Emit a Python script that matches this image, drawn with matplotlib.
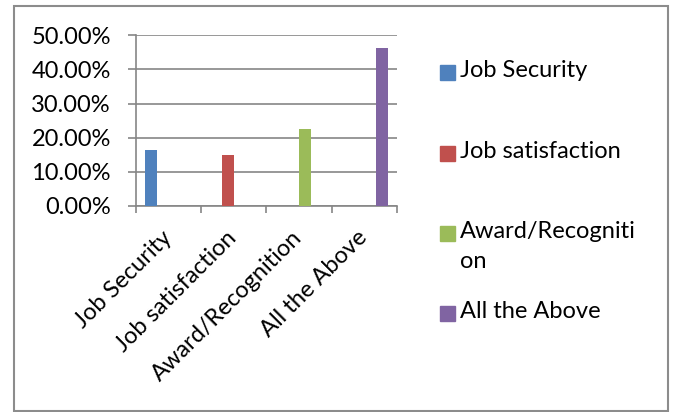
import matplotlib.pyplot as plt
from matplotlib.patches import Rectangle
from matplotlib.ticker import PercentFormatter

plt.rcParams['font.family'] = ['Lato', 'DejaVu Sans']

categories = ['Job Security', 'Job satisfaction', 'Award/Recognition', 'All the Above']
legend_labels = ['Job Security', 'Job satisfaction', 'Award/Recogniti\non', 'All the Above']
values = [16.3, 14.9, 22.6, 46.3]
colors = ['#4F81BD', '#C0504D', '#9BBB59', '#8064A2']
yticks = [0, 10, 20, 30, 40, 50]

W, H = 674, 412
fig = plt.figure(figsize=(W / 100, H / 100), dpi=100)
ax = fig.add_axes([136 / W, 1 - 206 / H, (396.7 - 136) / W, (206 - 35.3) / H])

# excel style: each series is its own column in a 4-wide cluster
n = len(categories)
w = 1 / (n + 1.5)
for i, (v, c) in enumerate(zip(values, colors)):
    ax.bar(i + (i - (n - 1) / 2) * w, v, width=w, color=c, zorder=3)

ax.set_xlim(-0.5, n - 0.5)
ax.set_ylim(0, 50)
ax.set_yticks(yticks)
ax.yaxis.set_major_formatter(PercentFormatter(decimals=2))
ax.grid(axis='y', color='#868686', linewidth=1.2, zorder=0)

ax.set_xticks([x - 0.5 for x in range(n + 1)])
ax.set_xticklabels([])
for i, lab in enumerate(categories):
    ax.annotate(lab, xy=(i, 0), xycoords='data', xytext=(5, -15), textcoords='offset points',
                rotation=45, ha='right', va='top', fontsize=17)

for s in ['top', 'right']:
    ax.spines[s].set_visible(False)
for s in ['left', 'bottom']:
    ax.spines[s].set_color('#868686')
    ax.spines[s].set_linewidth(1.2)
ax.tick_params(axis='y', length=6, color='#868686', width=1.2, pad=12, labelsize=17)
ax.tick_params(axis='x', length=5, color='#868686', width=1.2)

# legend on the right
ys = [72, 153, 233, 313]
for lab, c, y in zip(legend_labels, colors, ys):
    fig.patches.append(Rectangle((440 / W, 1 - (y + 7.5) / H), 15 / W, 15 / H,
                                 transform=fig.transFigure, color=c))
    fig.text(460 / W, 1 - (y - 12) / H, lab, fontsize=17, va='top', ha='left', linespacing=1.5)

# outer chart border
fig.patches.append(Rectangle((14 / W, 1 - 411 / H), 654 / W, 405 / H, transform=fig.transFigure,
                             fill=False, edgecolor='#8c8c8c', linewidth=1.5))

fig.savefig('out.png', dpi=100)
